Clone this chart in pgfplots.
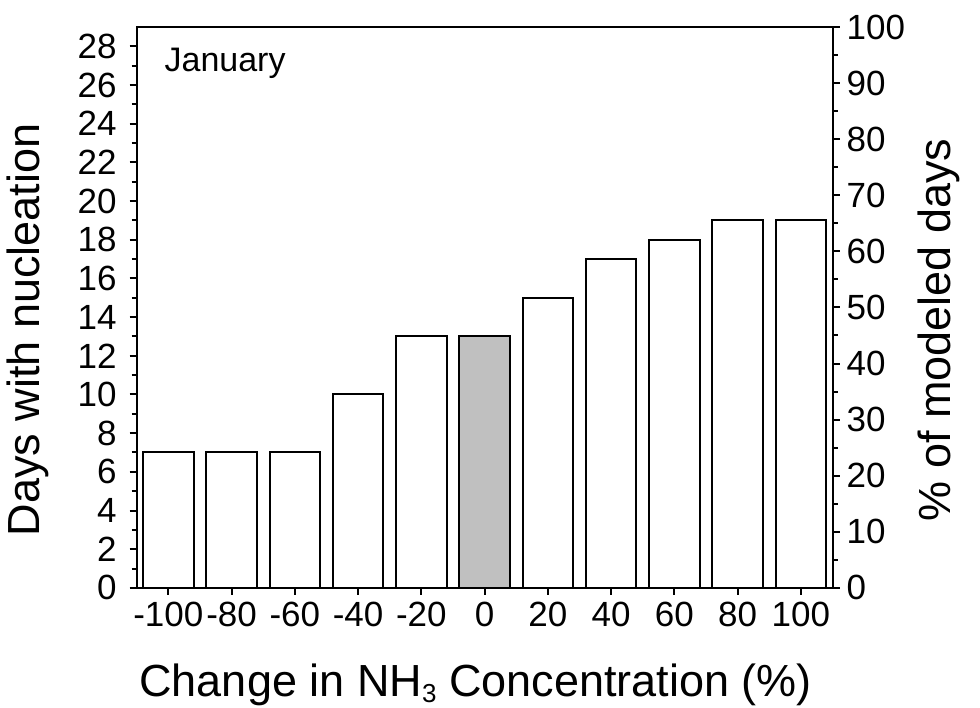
\documentclass[border=0pt]{standalone}
\usepackage{fontspec}
\setmainfont{Liberation Sans}
\usepackage{pgfplots}
\pgfplotsset{compat=1.18}
\definecolor{bargray}{RGB}{192,192,192}
\begin{document}
\begin{tikzpicture}
\begin{axis}[
  name=ax,
  scale only axis,
  width=348pt, height=280.5pt,
  xmin=-110, xmax=110,
  ymin=0, ymax=29,
  axis line style={line width=1pt},
  xtick={-100,-80,-60,-40,-20,0,20,40,60,80,100},
  xticklabels={-100,-80,-60,-40,-20,0,20,40,60,80,100},
  ytick={0,2,...,28},
  minor ytick={1,3,...,27},
  xtick pos=bottom, ytick pos=left,
  tick align=outside,
  major tick length=3.5pt, minor tick length=2.5pt,
  every tick/.style={line width=1pt, black},
  tick label style={font=\fontsize{17.5}{20}\selectfont},
  yticklabel style={xshift=-3pt},
  /pgf/number format/assume math mode=true,
  xlabel={Change in NH\raisebox{-3pt}{\fontsize{13}{15}\selectfont 3} Concentration (\%)},
  ylabel={Days with nucleation},
  label style={font=\fontsize{22.5}{26}\selectfont},
  xlabel style={at={(rel axis cs:0.487,0)}, anchor=base, yshift=-54.5pt},
  ylabel style={at={(rel axis cs:0,0.46)}, anchor=base, yshift=48.5pt},
  clip=false,
]
\addplot[ybar, bar width=16, fill=white, draw=black, line width=1pt] coordinates {
  (-100,7) (-80,7) (-60,7) (-40,10) (-20,13) (20,15) (40,17) (60,18) (80,19) (100,19)};
\addplot[ybar, bar width=16, fill=bargray, draw=black, line width=1pt] coordinates {(0,13)};
\node[anchor=base west, font=\fontsize{17}{20}\selectfont] at (rel axis cs:0.03,0.92) {January};
\end{axis}
\begin{axis}[
  scale only axis,
  width=348pt, height=280.5pt,
  xmin=-110, xmax=110,
  ymin=0, ymax=100,
  axis y line*=right,
  axis x line=none,
  axis line style={line width=1pt},
  ytick={0,10,...,100},
  minor ytick={5,15,...,95},
  tick align=outside,
  major tick length=3.5pt, minor tick length=2.5pt,
  every tick/.style={line width=1pt, black},
  tick label style={font=\fontsize{17.5}{20}\selectfont},
  /pgf/number format/assume math mode=true,
  ylabel={\% of modeled days},
  label style={font=\fontsize{22.5}{26}\selectfont},
  ylabel style={at={(rel axis cs:1,0.46)}, anchor=base, rotate=0, yshift=-59pt},
]
\addplot[draw=none] coordinates {(0,0)};
\end{axis}
\pgfresetboundingbox
\path ([shift={(-68.35pt,-60pt)}]ax.south west) rectangle ([shift={(73.75pt,13.5pt)}]ax.north east);
\end{tikzpicture}
\end{document}
